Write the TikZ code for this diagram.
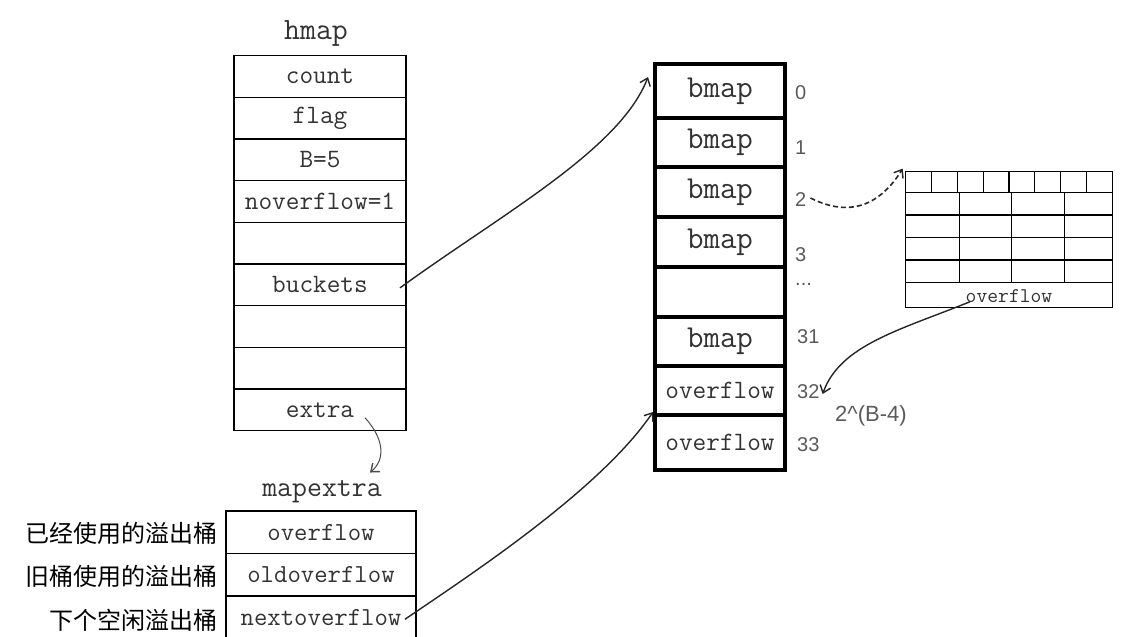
\documentclass[tikz,border=0pt]{standalone}
\usepackage{fontspec}
\setsansfont{Liberation Sans}
\newfontfamily\cjk{Noto Sans CJK SC}
\usetikzlibrary{arrows.meta}
\definecolor{txt}{HTML}{333333}
\definecolor{num}{HTML}{5A5A5A}
\begin{document}
\begin{tikzpicture}[x=1pt,y=-1pt,
  hcell/.style={draw=black, line width=1.3pt, minimum width=172pt, minimum height=41.67pt, inner sep=0pt, outer sep=0pt,
    font=\ttfamily\fontsize{26.5}{26.5}\selectfont, text=txt, anchor=north},
  bcell/.style={draw=black, line width=3.2pt, minimum width=130pt, inner sep=0pt, outer sep=0pt, text=txt},
  bfont/.style={font=\ttfamily\fontsize{32}{32}\selectfont},
  ofont/.style={font=\ttfamily\fontsize{26.5}{26.5}\selectfont},
  idx/.style={anchor=west, inner sep=0pt, text=num, font=\sffamily\fontsize{20}{20}\selectfont},
  ttl/.style={inner sep=0pt, text=txt, font=\ttfamily\fontsize{31}{31}\selectfont},
  mcell/.style={draw=black, line width=1.3pt, minimum width=190pt, minimum height=42.5pt, inner sep=0pt, outer sep=0pt,
    font=\ttfamily\fontsize{26}{26}\selectfont, text=txt, anchor=north},
  cn/.style={anchor=east, inner sep=0pt, text=black, font=\cjk\fontsize{24}{24}\selectfont},
  grd/.style={line width=1.1pt},
  conn/.style={draw=black!85, line width=1.4pt, -{Straight Barb[length=7pt,width=11pt,line width=1.4pt]}},
]
\useasboundingbox (0,0) rectangle (1125,637);
\clip (0,0) rectangle (1125,637);
\fill[white] (0,0) rectangle (1125,637);

% hmap
\node[ttl] (htitle) at (316,33) {hmap};
\node[hcell] (h1) at (320,55.7) {count};
\node[hcell] (h2) at (h1.south) {flag};
\node[hcell] (h3) at (h2.south) {B=5};
\node[hcell] (h4) at (h3.south) {noverflow=1};
\node[hcell] (h5) at (h4.south) {};
\node[hcell] (h6) at (h5.south) {buckets};
\node[hcell] (h7) at (h6.south) {};
\node[hcell] (h8) at (h7.south) {};
\node[hcell] (h9) at (h8.south) {extra};

% mapextra
\node[ttl, font=\ttfamily\fontsize{29}{29}\selectfont] (mtitle) at (322,492) {mapextra};
\node[mcell] (m1) at (321,511) {overflow};
\node[mcell] (m2) at (m1.south) {oldoverflow};
\node[mcell] (m3) at (m2.south) {nextoverflow};
\node[cn] (c1) at (218,533) {已经使用的溢出桶};
\node[cn] (c2) at (218,576) {旧桶使用的溢出桶};
\node[cn] (c3) at (218,620) {下个空闲溢出桶};

% bucket array
\foreach \t/\b/\s/\txt/\n in {64/118/bfont/bmap/0, 118/167/bfont/bmap/1, 167/217/bfont/bmap/2, 217/267/bfont/bmap/3,
  267/317/bfont//4, 317/366/bfont/bmap/5, 366/415/ofont/overflow/6, 415/470/ofont/overflow/7}{
  \node[bcell, \s, minimum height={(\b-\t)*1pt}] (b\n) at (720,{(\t+\b)/2}) {\txt};
}
\node[idx] (i0) at (795,93) {0};
\node[idx] (i1) at (795,148) {1};
\node[idx] (i2) at (795,200) {2};
\node[idx] (i3) at (795,255) {3};
\node[idx] (i4) at (795,284) {...};
\node[idx] (i5) at (797,337) {31};
\node[idx] (i6) at (797,392) {32};
\node[idx] (i7) at (797,445) {33};
\node[idx, font=\sffamily\fontsize{22}{22}\selectfont] (bexp) at (835,416) {2\^{}(B-4)};

% bucket detail grid
\node[draw=black, grd, minimum width=206.6pt, minimum height=136pt, inner sep=0pt, outer sep=0pt, anchor=north west] (grid) at (905.7,171.7) {};
\foreach \y in {192.3,215,237.7,260,282.7} \draw[grd] (905.7,\y) -- (1112.3,\y);
\foreach \k in {1,...,7} \draw[grd] ({905.7+25.83*\k},171.7) -- ({905.7+25.83*\k},192.3);
\foreach \x in {959.3,1011.7,1064.3} \draw[grd] (\x,192.3) -- (\x,282.7);
\node[inner sep=0pt, text=txt, font=\ttfamily\fontsize{21}{21}\selectfont] (gof) at (1009,296) {overflow};

% connectors
\draw[conn] ([xshift=-6pt,yshift=-3pt]h6.east) .. controls (500,215) and (620,150) .. ([xshift=-7pt,yshift=-13pt]b0.north west);
\draw[conn, line width=1pt, draw=black!70] ([xshift=-41pt,yshift=13pt]h9.south east) .. controls (385,440) and (385,460) .. ([xshift=48pt,yshift=8pt]mtitle.north);
\draw[conn] ([xshift=-11pt,yshift=-2pt]m3.east) .. controls (470,575) and (600,490) .. ([xshift=-2pt,yshift=3pt]b7.north west);
\draw[conn, dash pattern=on 5pt off 3pt, line width=1.6pt] ([xshift=4pt,yshift=2pt]i2.east) .. controls (850,218) and (880,205) .. ([xshift=-3pt,yshift=3pt]grid.north west);
\draw[conn] ([xshift=-39pt,yshift=1pt]gof.south) .. controls (900,330) and (840,345) .. ([xshift=3pt,yshift=-2pt]i6.east);
\end{tikzpicture}
\end{document}
